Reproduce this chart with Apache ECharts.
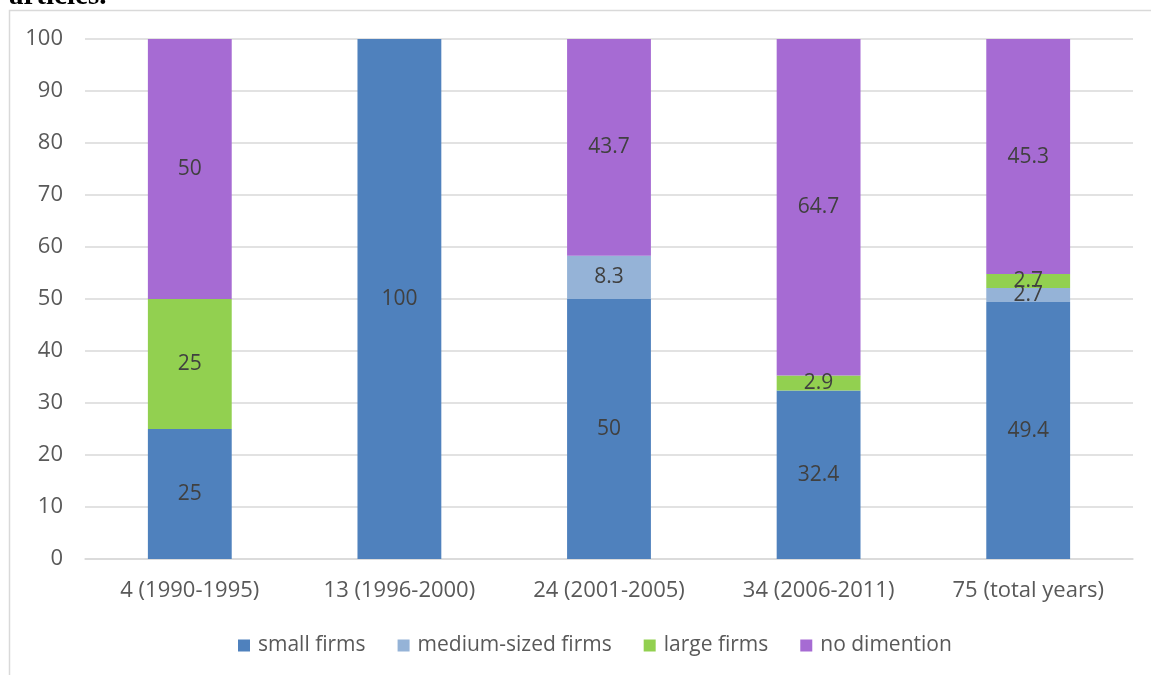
<!DOCTYPE html>
<html>
<head>
<meta charset="utf-8">
<script src="https://cdn.jsdelivr.net/npm/echarts@6/dist/echarts.min.js"></script>
<style>
  html, body { margin: 0; padding: 0; background: #ffffff; }
  #chart { width: 1151px; height: 675px; }
</style>
</head>
<body>
<div id="chart"></div>
<script>
// Publication periods (number of articles and years)
const categories = ['4 (1990-1995)', '13 (1996-2000)', '24 (2001-2005)', '34 (2006-2011)', '75 (total years)'];

// Share of articles per firm-size dimension, in percent
const smallFirms = [25, 100, 50, 32.4, 49.4];
const mediumFirms = [0, 0, 8.3, 0, 2.7];
const largeFirms = [25, 0, 0, 2.9, 2.7];
const noDimention = [50, 0, 43.7, 64.7, 45.3];

const yTicks = [0, 10, 20, 30, 40, 50, 60, 70, 80, 90, 100];

const FONT = '"Open Sans", "Noto Sans", sans-serif';

function makeSeries(name, values, color) {
  return {
    name: name,
    type: 'bar',
    stack: 'total',
    barWidth: '40%',
    data: values.map(v => (v === 0 ? null : v)),
    itemStyle: { color: color },
    label: {
      show: true,
      position: 'inside',
      color: '#404040',
      fontFamily: FONT,
      fontSize: 21,
      formatter: p => (p.value ? String(p.value) : '')
    }
  };
}

const chart = echarts.init(document.getElementById('chart'), null, { renderer: 'canvas' });

chart.setOption({
  animation: false,
  backgroundColor: '#ffffff',
  graphic: [
    {
      type: 'rect',
      shape: { x: 9.5, y: 10.5, width: 1200, height: 700 },
      style: { fill: 'none', stroke: '#d9d9d9', lineWidth: 1.5 },
      silent: true
    },
    {
      // caption text running above the chart frame
      type: 'text',
      x: 9,
      y: -3,
      style: {
        text: 'articles.',
        font: 'bold 29px "Liberation Serif", serif',
        fill: '#000000',
        verticalAlign: 'middle'
      },
      silent: true
    }
  ],
  grid: { left: 85, right: 18, top: 39, bottom: 116, containLabel: false },
  legend: {
    bottom: 14,
    left: 233,
    itemWidth: 12,
    itemHeight: 12,
    itemGap: 32,
    icon: 'rect',
    textStyle: { color: '#595959', fontFamily: FONT, fontSize: 21, padding: [0, 0, 0, 3] },
    data: ['small firms', 'medium-sized firms', 'large firms', 'no dimention']
  },
  xAxis: {
    type: 'category',
    data: categories,
    axisLine: { lineStyle: { color: '#d9d9d9', width: 1.5 } },
    axisTick: { show: false },
    axisLabel: { color: '#595959', fontFamily: FONT, fontSize: 22, margin: 21 }
  },
  yAxis: {
    type: 'value',
    min: yTicks[0],
    max: yTicks[yTicks.length - 1],
    interval: 10,
    axisLine: { show: false },
    axisTick: { show: false },
    splitLine: { lineStyle: { color: '#d9d9d9', width: 1.5 } },
    axisLabel: { color: '#595959', fontFamily: FONT, fontSize: 22, margin: 22 }
  },
  series: [
    makeSeries('small firms', smallFirms, '#4f81bd'),
    makeSeries('medium-sized firms', mediumFirms, '#95b3d7'),
    makeSeries('large firms', largeFirms, '#92d050'),
    makeSeries('no dimention', noDimention, '#a66bd3')
  ]
});
</script>
</body>
</html>
